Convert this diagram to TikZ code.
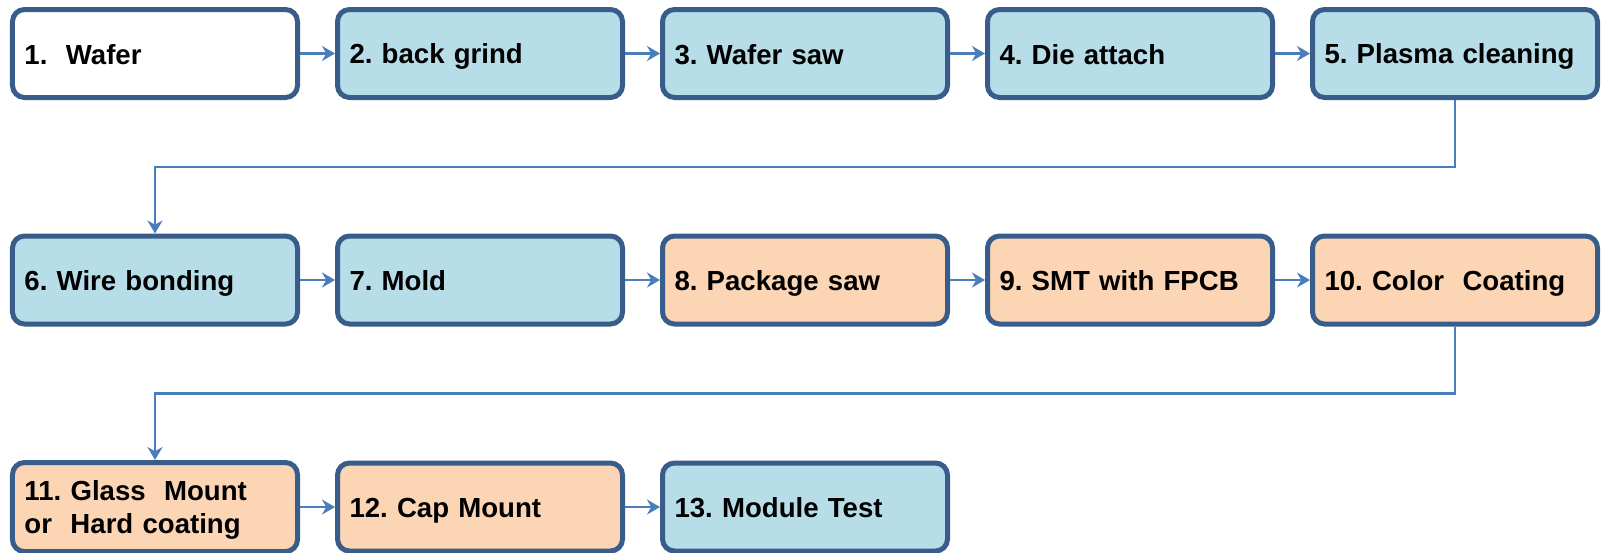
\documentclass[tikz,border=0pt]{standalone}
\usepackage{fontspec}
\setmainfont{Liberation Sans}
\usepackage{tikz}
\usetikzlibrary{arrows.meta, positioning}
\definecolor{myborder}{RGB}{56,93,138}
\definecolor{myarrow}{RGB}{74,126,187}
\definecolor{myblue}{RGB}{183,221,232}
\definecolor{myorange}{RGB}{252,213,181}
\newcommand{\boxstrut}{\rule[-2.5pt]{0pt}{15.5pt}}
\tikzset{
  block/.style={rectangle, draw=myborder, fill=myblue,
    text width=130.5pt, align=left, minimum width=142.5pt, minimum height=44pt,
    inner sep=6pt, rounded corners=6pt, line width=2.5pt,
    font=\bfseries\fontsize{13.8}{16.6}\selectfont,
    execute at begin node=\boxstrut, execute at end node=\boxstrut},
  whiteblock/.style={block, fill=white},
  orangeblock/.style={block, fill=myorange},
  arrow/.style={-{Stealth[length=6.5pt, width=7.5pt]}, line width=1.25pt, color=myarrow}
}
\frenchspacing
\begin{document}
\begin{tikzpicture}[node distance=66.75pt and 17.5pt]
  \useasboundingbox (-5pt,3.5pt) rectangle (795.5pt,-272.5pt);
  % first row
  \node[whiteblock, anchor=north west] (wafer) at (0,0) {1.~~Wafer};
  \node[block, right=of wafer] (grind) {2. back grind};
  \node[block, right=of grind] (wsaw) {3. Wafer saw};
  \node[block, right=of wsaw] (attach) {4. Die attach};
  \node[block, right=of attach] (plasma) {5. Plasma cleaning};
  % second row
  \node[block, below=of wafer] (bond) {6. Wire bonding};
  \node[block, right=of bond] (mold) {7. Mold};
  \node[orangeblock, right=of mold] (psaw) {8. Package saw};
  \node[orangeblock, right=of psaw] (smt) {9. SMT with FPCB};
  \node[orangeblock, right=of smt] (coat) {10. Color~~Coating};
  % third row
  \node[orangeblock, below=of bond] (glass) {11. Glass~~Mount\\or~~Hard coating};
  \node[orangeblock, right=of glass] (cap) {12. Cap Mount};
  \node[block, right=of cap] (test) {13. Module Test};

  \draw[arrow] (wafer) -- (grind);
  \draw[arrow] (grind) -- (wsaw);
  \draw[arrow] (wsaw) -- (attach);
  \draw[arrow] (attach) -- (plasma);
  \draw[arrow] (plasma.south) -- ++(0,-33.4pt) -| (bond.north);
  \draw[arrow] (bond) -- (mold);
  \draw[arrow] (mold) -- (psaw);
  \draw[arrow] (psaw) -- (smt);
  \draw[arrow] (smt) -- (coat);
  \draw[arrow] (coat.south) -- ++(0,-33.4pt) -| (glass.north);
  \draw[arrow] (glass) -- (cap);
  \draw[arrow] (cap) -- (test);
\end{tikzpicture}
\end{document}
